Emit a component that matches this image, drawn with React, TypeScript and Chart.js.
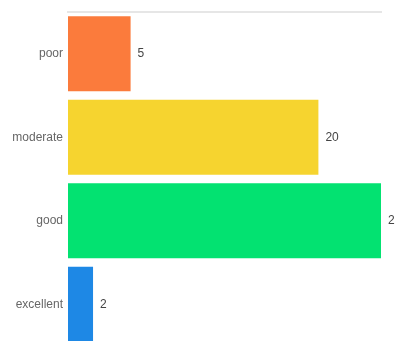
import React, { useEffect, useRef } from "react";
import { Chart, registerables } from "chart.js";

Chart.register(...registerables);

const categories = ["poor", "moderate", "good", "excellent"];
const values = [5, 20, 25, 2];
const barColors = ["#fb7b3c", "#f6d42f", "#03e271", "#1e88e5"];
const axisMax = 25;

const valueLabels = {
  id: "valueLabels",
  afterDatasetsDraw(chart: any) {
    const ctx = chart.ctx;
    const meta = chart.getDatasetMeta(0);
    ctx.save();
    ctx.font = "12px 'Liberation Sans', Arial, sans-serif";
    ctx.fillStyle = "#444";
    ctx.textAlign = "left";
    ctx.textBaseline = "middle";
    meta.data.forEach((bar: any, i: number) => {
      ctx.fillText(String(values[i]), bar.x + 7, bar.y);
    });
    ctx.restore();
  },
};

export default function App() {
  const ref = useRef<HTMLCanvasElement | null>(null);
  useEffect(() => {
    if (!ref.current) return;
    const chart = new Chart(ref.current, {
      type: "bar",
      data: {
        labels: categories,
        datasets: [
          {
            data: values,
            backgroundColor: barColors,
            borderWidth: 0,
            barPercentage: 0.9,
            categoryPercentage: 1,
          },
        ],
      },
      options: {
        indexAxis: "y",
        animation: false,
        responsive: false,
        maintainAspectRatio: false,
        layout: { padding: { top: 12, right: 14, bottom: 0, left: 0 } },
        plugins: { legend: { display: false }, tooltip: { enabled: false } },
        scales: {
          x: {
            position: "top",
            min: 0,
            max: axisMax,
            ticks: { display: false },
            grid: { display: false },
            border: { display: true, color: "#e6e6e6", width: 2 },
            afterFit: (scale: any) => {
              scale.height = 0;
              scale.paddingLeft = 0;
              scale.paddingRight = 0;
            },
          },
          y: {
            ticks: {
              padding: 5,
              color: "#666",
              font: { size: 12, family: "'Liberation Sans', Arial, sans-serif" },
            },
            grid: { display: false, drawTicks: false },
            border: { display: false },
            afterFit: (scale: any) => {
              scale.width = 68;
              scale.paddingTop = 0;
              scale.paddingBottom = 0;
            },
          },
        },
      },
      plugins: [valueLabels],
    });
    return () => chart.destroy();
  }, []);
  return (
    <div style={{ position: "fixed", top: 0, left: 0, width: 395, height: 346, background: "#fff" }}>
      <canvas ref={ref} width={395} height={346} style={{ display: "block" }} />
    </div>
  );
}
